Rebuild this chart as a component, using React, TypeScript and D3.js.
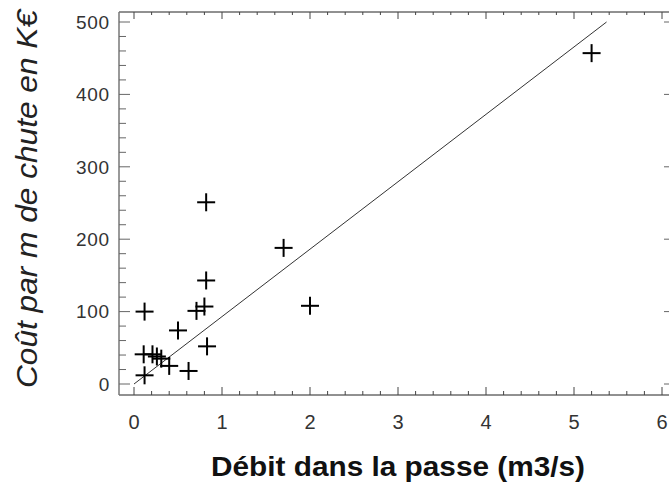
import React from "react";
import * as d3 from "d3";

const debit = [5.2, 0.82, 1.7, 2.0, 0.82, 0.8, 0.71, 0.12, 0.5, 0.83, 0.11, 0.21, 0.26, 0.31, 0.4, 0.62, 0.12];
const cout = [457, 251, 188, 108, 143, 107, 101, 100, 74, 52, 41, 41, 38, 35, 25, 18, 12];
const fitX = [0, 5.37];
const fitY = [0, 500];
const xTicks = [0, 1, 2, 3, 4, 5, 6];
const yTicks = [0, 100, 200, 300, 400, 500];
const xLabel = "Débit dans la passe (m3/s)";
const yLabel = "Coût par m de chute en K€";

export default function App() {
  const W = 669, H = 488;
  const left = 119, right = 672, top = 12, bottom = 395;
  const x = d3.scaleLinear().domain([0, 6]).range([134, 662]);
  const y = d3.scaleLinear().domain([0, 500]).range([384, 22]);
  const xMinor = d3.range(0, 6.0001, 0.2);
  const yMinor = d3.range(0, 500.1, 20);
  const isMajX = (v: number) => Math.abs(v - Math.round(v)) < 1e-6;
  const isMajY = (v: number) => Math.abs(v % 100) < 1e-6;
  const line = d3.line<[number, number]>().x(d => x(d[0])).y(d => y(d[1]));
  const fit: [number, number][] = fitX.map((v, i) => [v, fitY[i]]);
  const font = "'Liberation Sans', Arial, sans-serif";
  const cs = 9;
  return (
    <svg width={W} height={H} style={{ position: "absolute", left: 0, top: 0, background: "#fff" }}>
      <rect x={0} y={0} width={W} height={H} fill="#fff" />
      <line x1={left} x2={right} y1={top} y2={top} stroke="#222" strokeWidth={1} />
      <line x1={left} x2={right} y1={bottom} y2={bottom} stroke="#222" strokeWidth={1} />
      <line x1={left} x2={left} y1={top} y2={bottom} stroke="#777" strokeWidth={1.5} />
      <line x1={right} x2={right} y1={top} y2={bottom} stroke="#777" strokeWidth={1.5} />
      {xMinor.map((v, i) => (
        <g key={"xt" + i}>
          <line x1={x(v)} x2={x(v)} y1={bottom} y2={bottom - (isMajX(v) ? 8 : 4)} stroke="#444" strokeWidth={1} />
          <line x1={x(v)} x2={x(v)} y1={top} y2={top + (isMajX(v) ? 7 : 3)} stroke="#444" strokeWidth={1} />
        </g>
      ))}
      {yMinor.map((v, i) => (
        <g key={"yt" + i}>
          <line x1={left} x2={left + (isMajY(v) ? 11 : 7)} y1={y(v)} y2={y(v)} stroke="#666" strokeWidth={1} />
          <line x1={right} x2={right - (isMajY(v) ? 8 : 3)} y1={y(v)} y2={y(v)} stroke="#666" strokeWidth={1} />
        </g>
      ))}
      {yTicks.map(v => (
        <text key={"yl" + v} x={110} y={y(v)} dy="0.36em" textAnchor="end" fontFamily={font} fontSize={19} fill="#333" letterSpacing={0.8}>{v}</text>
      ))}
      {xTicks.map(v => (
        <text key={"xl" + v} x={x(v)} y={422} dy="0.36em" textAnchor="middle" fontFamily={font} fontSize={20} fill="#333">{v}</text>
      ))}
      <path d={line(fit) || ""} fill="none" stroke="#333" strokeWidth={1} />
      {debit.map((v, i) => (
        <g key={"p" + i} stroke="#000" strokeWidth={2}>
          <line x1={x(v) - cs} x2={x(v) + cs} y1={y(cout[i])} y2={y(cout[i])} />
          <line x1={x(v)} x2={x(v)} y1={y(cout[i]) - cs} y2={y(cout[i]) + cs} />
        </g>
      ))}
      <text x={398} y={476} textAnchor="middle" fontFamily={font} fontSize={27} fontWeight="bold" fill="#111" textLength={374} lengthAdjust="spacingAndGlyphs">{xLabel}</text>
      <text transform={`translate(37,199) rotate(-90)`} textAnchor="middle" fontFamily={font} fontSize={29} fontStyle="italic" fill="#222" textLength={378} lengthAdjust="spacingAndGlyphs">{yLabel}</text>
    </svg>
  );
}
